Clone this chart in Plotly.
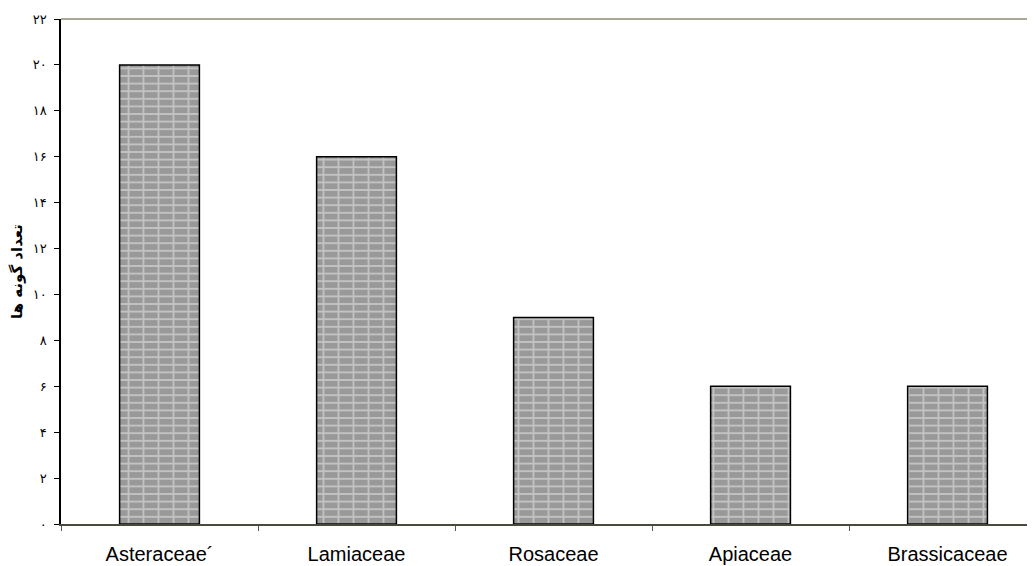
import plotly.graph_objects as go

families = ["Asteraceae´", "Lamiaceae", "Rosaceae", "Apiaceae", "Brassicaceae"]
species_counts = [20, 16, 9, 6, 6]
y_tick_values = [0, 2, 4, 6, 8, 10, 12, 14, 16, 18, 20, 22]
y_tick_labels = ["۰", "۲", "۴", "۶", "۸", "۱۰", "۱۲", "۱۴", "۱۶", "۱۸", "۲۰", "۲۲"]
y_title = "تعداد گونه ها"

fig = go.Figure()
# brick fill: horizontal mortar rows
fig.add_trace(go.Bar(
    x=families, y=species_counts, width=0.405,
    marker=dict(
        color="#999999",
        line=dict(color="#000000", width=0),
        pattern=dict(shape="-", fgcolor="#c2c2c2", bgcolor="#999999",
                     size=7.6, solidity=0.25, fillmode="replace"),
    ),
    hoverinfo="x+y",
))
# vertical mortar joints + outline
fig.add_trace(go.Bar(
    x=families, y=species_counts, width=0.405,
    marker=dict(
        color="rgba(0,0,0,0)",
        line=dict(color="#000000", width=1.5),
        pattern=dict(shape="|", fgcolor="#c2c2c2", bgcolor="rgba(0,0,0,0)",
                     size=15, solidity=0.12, fillmode="replace"),
    ),
    hoverinfo="skip",
))

fig.update_layout(
    width=1035, height=566,
    barmode="overlay",
    margin=dict(l=53, r=8, t=11, b=50),
    paper_bgcolor="white", plot_bgcolor="white",
    showlegend=False,
    font=dict(family="Liberation Sans, Arial, sans-serif", color="#000000"),
    xaxis=dict(
        automargin=False,
        range=[-0.5, 4.444], showgrid=False, zeroline=False,
        showline=True, linecolor="#4a4a3a", linewidth=1.5,
        ticks="outside", tickson="boundaries", ticklen=5, tickcolor="#555555",
        tickfont=dict(size=20, family="Liberation Sans, Arial, sans-serif"),
        ticklabelstandoff=11,
    ),
    yaxis=dict(
        automargin=False,
        range=[0, 22], showgrid=False, zeroline=False,
        showline=True, linecolor="#000000", linewidth=1.5,
        ticks="outside", ticklen=5, tickcolor="#000000",
        tickvals=y_tick_values, ticktext=y_tick_labels,
        tickfont=dict(size=13, family="DejaVu Sans, sans-serif"),
        ticklabelstandoff=5,
        title=dict(text="<b>" + y_title + "</b>", standoff=14,
                   font=dict(size=15, family="DejaVu Sans, sans-serif")),
    ),
    shapes=[dict(type="line", xref="paper", yref="paper", x0=0, x1=1, y0=1, y1=1,
                 line=dict(color="#8c8c70", width=1.5))],
)

fig.write_html("out.html")
